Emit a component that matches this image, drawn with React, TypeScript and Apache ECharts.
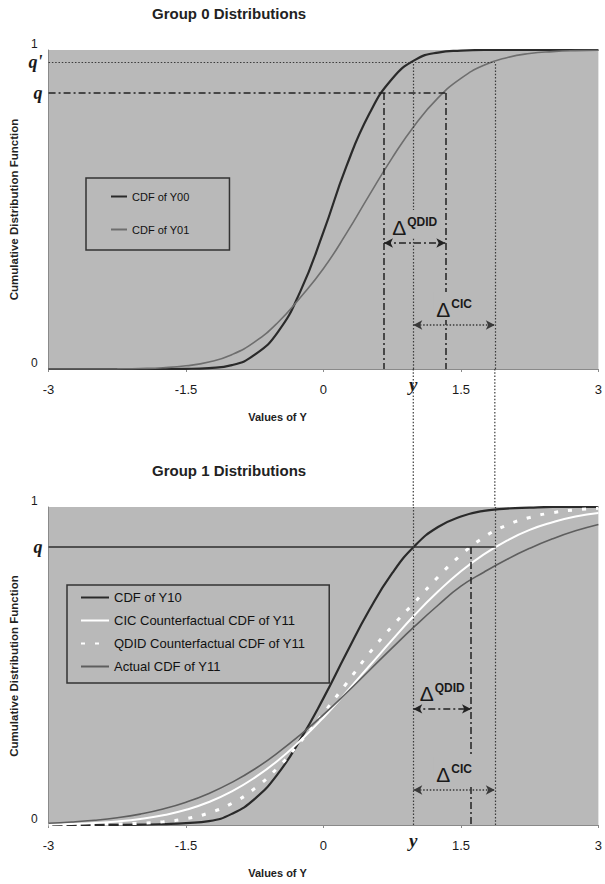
import React, { useEffect, useRef } from "react";
import * as echarts from "echarts";

// ---- data ----
const xs = [-3, -2.75, -2.5, -2.25, -2, -1.75, -1.5, -1.25, -1, -0.75, -0.5, -0.25, 0, 0.25, 0.5, 0.75, 1, 1.25, 1.5, 1.75, 2, 2.25, 2.5, 2.75, 3];

// Group 0
const cdfY00 = [0, 0, 0, 0, 0, 0, 0.0005, 0.003, 0.012, 0.045, 0.115, 0.245, 0.43, 0.635, 0.8, 0.91, 0.969, 0.992, 0.998, 1, 1, 1, 1, 1, 1];
const cdfY01 = [0, 0, 0.0001, 0.0005, 0.0015, 0.004, 0.01, 0.022, 0.045, 0.085, 0.145, 0.225, 0.315, 0.425, 0.545, 0.662, 0.766, 0.85, 0.911, 0.952, 0.976, 0.989, 0.995, 0.998, 0.999];

// Group 1
const cdfY10 = [0, 0, 0.0001, 0.0003, 0.0009, 0.0029, 0.006, 0.012, 0.035, 0.082, 0.16, 0.27, 0.399, 0.54, 0.676, 0.792, 0.879, 0.937, 0.97, 0.988, 0.995, 0.998, 1, 1, 1];
const cicY11 = [0.0018, 0.0034, 0.0062, 0.011, 0.0186, 0.0304, 0.0478, 0.0724, 0.1056, 0.149, 0.202, 0.266, 0.338, 0.418, 0.5, 0.582, 0.662, 0.734, 0.798, 0.851, 0.894, 0.928, 0.952, 0.97, 0.981];
const qdidY11 = [0.0003, 0.0007, 0.0015, 0.003, 0.0055, 0.01, 0.02, 0.038, 0.068, 0.115, 0.18, 0.262, 0.352, 0.445, 0.54, 0.625, 0.702, 0.78, 0.849, 0.905, 0.943, 0.967, 0.982, 0.991, 0.996];
const actualY11 = [0.0056, 0.0092, 0.0147, 0.0228, 0.0343, 0.0502, 0.0716, 0.0993, 0.134, 0.176, 0.227, 0.284, 0.347, 0.415, 0.486, 0.557, 0.626, 0.691, 0.751, 0.795, 0.835, 0.87, 0.9, 0.925, 0.945];

const xTickLabels = ["-3", "-1.5", "0", "1.5", "3"];
const yTickLabels = ["0", "1"];

// annotation levels / positions
const qTop = 0.865;
const qPrimeTop = 0.962;
const qBottom = 0.874;
const yStar = 0.98;
const qdidLeftTop = 0.66;
const qdidRightTop = 1.33;
const cicRight = 1.87;
const qdidRightBottom = 1.61;
const arrowQdidTop = 0.395;
const arrowCicTop = 0.138;
const arrowQdidBottom = 0.365;
const arrowCicBottom = 0.11;

const PLOT_BG = "#b9b9b9";
const SANS = "Liberation Sans";
const SERIF = "Liberation Serif";

const pts = (vals: number[]) => xs.map((x, i) => [x, vals[i]]);

const dotted = { color: "#3a3a3a", width: 1.2, type: [1.5, 1.8] };
const dashDot = { color: "#222", width: 1.5, type: [7, 3, 2, 3] };
const solidDark = { color: "#2e2e2e", width: 1.6, type: "solid" };

const qLabel = (text: string) => ({
  show: true,
  position: "start",
  distance: 6,
  formatter: text,
  color: "#1a1a1a",
  fontFamily: SERIF,
  fontStyle: "italic",
  fontWeight: "bold",
  fontSize: 18,
  padding: [4, 0, 0, 0],
});

const yLabel = {
  show: true,
  position: "start",
  distance: 6,
  formatter: "y",
  color: "#1a1a1a",
  fontFamily: SERIF,
  fontStyle: "italic",
  fontWeight: "bold",
  fontSize: 19,
};

const deltaLabel = (sup: string) => ({
  show: true,
  position: "middle",
  distance: 5,
  formatter: `{d|Δ}{s|${sup}}`,
  backgroundColor: PLOT_BG,
  padding: [6, 3, 0, 3],
  rich: {
    d: { fontFamily: SANS, fontSize: 21, color: "#1a1a1a", lineHeight: 22, verticalAlign: "bottom" },
    s: { fontFamily: SANS, fontSize: 12, fontWeight: "bold", color: "#1a1a1a", lineHeight: 22, verticalAlign: "top", padding: [0, 0, 8, 1] },
  },
});

const seg = (a: number[], b: number[], lineStyle: any, label?: any, arrows = false) => [
  { coord: a, lineStyle, label: label || { show: false }, symbol: arrows ? "arrow" : "none", symbolSize: [7, 9] },
  { coord: b, symbol: arrows ? "arrow" : "none", symbolSize: [7, 9] },
];

const topMarks = [
  seg([-3, qPrimeTop], [cicRight, qPrimeTop], dotted, qLabel("q'")),
  seg([-3, qTop], [qdidRightTop, qTop], dashDot, qLabel("q")),
  seg([qdidLeftTop, qTop], [qdidLeftTop, 0], dashDot),
  seg([qdidRightTop, qTop], [qdidRightTop, 0], dashDot),
  seg([yStar, 0], [yStar, qPrimeTop], dotted, yLabel),
  seg([cicRight, 0], [cicRight, qPrimeTop], dotted),
  seg([qdidLeftTop, arrowQdidTop], [qdidRightTop, arrowQdidTop], dashDot, deltaLabel("QDID"), true),
  seg([yStar, arrowCicTop], [cicRight, arrowCicTop], { ...dotted, width: 1.6 }, deltaLabel("CIC"), true),
];

const bottomMarks = [
  seg([-3, qBottom], [cicRight, qBottom], solidDark, qLabel("q")),
  seg([qdidRightBottom, qBottom], [qdidRightBottom, 0], dashDot),
  seg([yStar, 0], [yStar, 1], dotted, yLabel),
  seg([cicRight, 0], [cicRight, 1], dotted),
  seg([yStar, arrowQdidBottom], [qdidRightBottom, arrowQdidBottom], dashDot, deltaLabel("QDID"), true),
  seg([yStar, arrowCicBottom], [cicRight, arrowCicBottom], { ...dotted, width: 1.6 }, deltaLabel("CIC"), true),
];

const markLineBase = (data: any[]) => ({
  silent: true,
  symbol: "none",
  animation: false,
  data,
});

const xAxisCfg = (gridIndex: number) => ({
  type: "value",
  gridIndex,
  min: -3,
  max: 3,
  interval: 1.5,
  name: "Values of Y",
  nameLocation: "middle",
  nameGap: 42,
  nameTextStyle: { fontFamily: SANS, fontWeight: "bold", fontSize: 11, color: "#222", padding: [0, 92, 0, 0] },
  axisLine: { show: true, onZero: false, lineStyle: { color: "#8a8a8a", width: 1 } },
  axisTick: { show: true, length: 3, lineStyle: { color: "#8a8a8a" } },
  axisLabel: {
    margin: 14,
    fontFamily: SANS,
    fontSize: 13,
    color: "#1a1a1a",
    formatter: (v: number) => {
      const i = [-3, -1.5, 0, 1.5, 3].indexOf(v);
      return i >= 0 ? xTickLabels[i] : "";
    },
  },
  splitLine: { show: false },
});

const yAxisCfg = (gridIndex: number) => ({
  type: "value",
  gridIndex,
  min: 0,
  max: 1,
  interval: 1,
  name: "Cumulative Distribution Function",
  nameLocation: "middle",
  nameGap: 28,
  nameTextStyle: { fontFamily: SANS, fontWeight: "bold", fontSize: 11.5, color: "#222" },
  axisLine: { show: true, onZero: false, lineStyle: { color: "#8a8a8a", width: 1 } },
  axisTick: { show: false },
  axisLabel: {
    margin: 11,
    fontFamily: SANS,
    fontSize: 12,
    verticalAlign: "bottom",
    color: "#1a1a1a",
    formatter: (v: number) => (v === 0 ? yTickLabels[0] : v === 1 ? yTickLabels[1] : ""),
  },
  splitLine: { show: false },
});

const option: any = {
  animation: false,
  backgroundColor: "#ffffff",
  title: [
    { text: "Group 0 Distributions", left: 152, top: 6, padding: 0, textStyle: { fontFamily: SANS, fontWeight: "bold", fontSize: 15, color: "#222" } },
    { text: "Group 1 Distributions", left: 152, top: 463, padding: 0, textStyle: { fontFamily: SANS, fontWeight: "bold", fontSize: 15, color: "#222" } },
  ],
  grid: [
    { left: 47, right: 5, top: 50, height: 319, show: true, backgroundColor: PLOT_BG, borderWidth: 0 },
    { left: 47, right: 5, top: 507, height: 318, show: true, backgroundColor: PLOT_BG, borderWidth: 0 },
  ],
  xAxis: [xAxisCfg(0), xAxisCfg(1)],
  yAxis: [yAxisCfg(0), yAxisCfg(1)],
  legend: [
    {
      data: ["CDF of Y00", "CDF of Y01"],
      orient: "vertical",
      left: 86,
      top: 178,
      padding: [13, 40, 15, 24],
      itemGap: 22,
      itemWidth: 16,
      itemHeight: 12,
      itemStyle: { opacity: 0 },
      borderColor: "#333",
      borderWidth: 1.5,
      borderRadius: 0,
      backgroundColor: "transparent",
      textStyle: { fontFamily: SANS, fontSize: 11, color: "#111" },
    },
    {
      data: ["CDF of Y10", "CIC Counterfactual CDF of Y11", "QDID Counterfactual CDF of Y11", "Actual CDF of Y11"],
      orient: "vertical",
      left: 67,
      top: 585,
      padding: [6, 24, 10, 13],
      itemGap: 10,
      itemWidth: 28,
      itemHeight: 12,
      itemStyle: { opacity: 0 },
      borderColor: "#333",
      borderWidth: 1.5,
      borderRadius: 0,
      backgroundColor: "transparent",
      textStyle: { fontFamily: SANS, fontSize: 13, color: "#111" },
    },
  ],
  series: [
    {
      name: "CDF of Y00",
      type: "line",
      xAxisIndex: 0,
      yAxisIndex: 0,
      data: pts(cdfY00),
      smooth: true,
      symbol: "none",
      lineStyle: { color: "#2a2a2a", width: 2.2 },
      itemStyle: { color: "#2a2a2a" },
      z: 3,
    },
    {
      name: "CDF of Y01",
      type: "line",
      xAxisIndex: 0,
      yAxisIndex: 0,
      data: pts(cdfY01),
      smooth: true,
      symbol: "none",
      lineStyle: { color: "#6e6e6e", width: 1.6 },
      itemStyle: { color: "#6e6e6e" },
      z: 3,
    },
    {
      name: "markers-top",
      type: "line",
      xAxisIndex: 0,
      yAxisIndex: 0,
      data: [],
      symbol: "none",
      markLine: markLineBase(topMarks),
      z: 4,
    },
    {
      name: "CDF of Y10",
      type: "line",
      xAxisIndex: 1,
      yAxisIndex: 1,
      data: pts(cdfY10),
      smooth: true,
      symbol: "none",
      lineStyle: { color: "#2a2a2a", width: 2.2 },
      itemStyle: { color: "#2a2a2a" },
      z: 3,
    },
    {
      name: "CIC Counterfactual CDF of Y11",
      type: "line",
      xAxisIndex: 1,
      yAxisIndex: 1,
      data: pts(cicY11),
      smooth: true,
      symbol: "none",
      lineStyle: { color: "#ffffff", width: 2 },
      itemStyle: { color: "#ffffff" },
      z: 3,
    },
    {
      name: "QDID Counterfactual CDF of Y11",
      type: "line",
      xAxisIndex: 1,
      yAxisIndex: 1,
      data: pts(qdidY11),
      smooth: true,
      symbol: "none",
      lineStyle: { color: "#ffffff", width: 3, type: [4, 10] },
      itemStyle: { color: "#ffffff" },
      z: 3,
    },
    {
      name: "Actual CDF of Y11",
      type: "line",
      xAxisIndex: 1,
      yAxisIndex: 1,
      data: pts(actualY11),
      smooth: true,
      symbol: "none",
      lineStyle: { color: "#5e5e5e", width: 1.6 },
      itemStyle: { color: "#5e5e5e" },
      z: 3,
    },
    {
      name: "markers-bottom",
      type: "line",
      xAxisIndex: 1,
      yAxisIndex: 1,
      data: [],
      symbol: "none",
      markLine: markLineBase(bottomMarks),
      z: 4,
    },
  ],
};

export default function App() {
  const ref = useRef<HTMLDivElement>(null);
  useEffect(() => {
    if (!ref.current) return;
    const chart = echarts.init(ref.current, null, { renderer: "svg" });
    chart.setOption(option);
    const px = (g: number, pt: number[]) => chart.convertToPixel({ gridIndex: g } as any, pt) as number[];
    const connectors = [yStar, cicRight].map((x) => {
      const a = px(0, [x, 0]);
      const b = px(1, [x, 1]);
      return {
        type: "line",
        silent: true,
        z: 10,
        shape: { x1: a[0], y1: a[1], x2: b[0], y2: b[1] },
        style: { stroke: "#3a3a3a", lineWidth: 1.2, lineDash: [1.5, 1.8] },
      };
    });
    chart.setOption({ graphic: connectors });
    return () => chart.dispose();
  }, []);
  return (
    <div
      ref={ref}
      style={{ position: "fixed", left: 0, top: 0, width: 605, height: 884, background: "#fff" }}
    />
  );
}
